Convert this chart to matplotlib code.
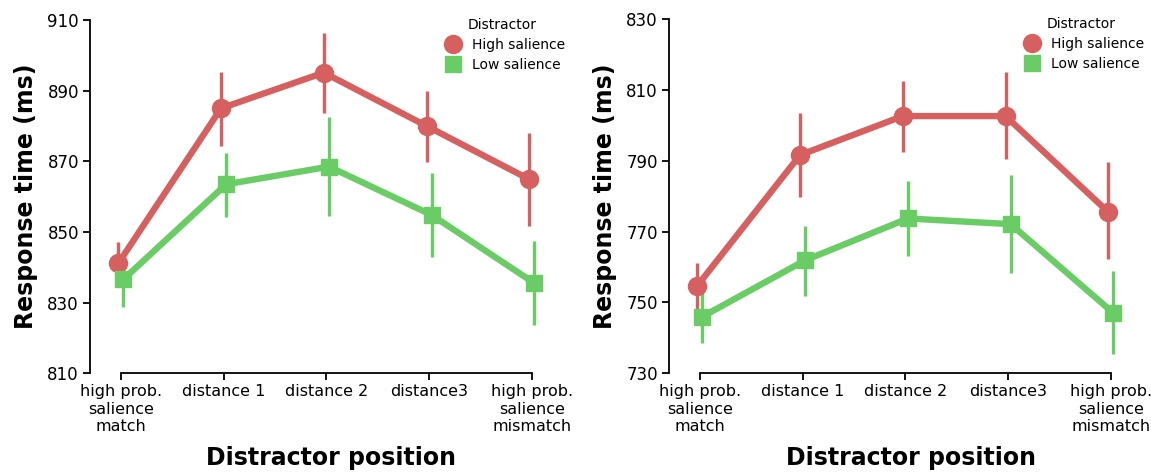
import matplotlib
matplotlib.use("Agg")
import matplotlib.pyplot as plt
from matplotlib.lines import Line2D
import numpy as np

categories = ["high prob.\nsalience\nmatch", "distance 1", "distance 2", "distance3",
              "high prob.\nsalience\nmismatch"]
series_names = ["High salience", "Low salience"]

# Left panel
left_high_mean = [841.1, 885.0, 895.1, 880.0, 864.9]
left_high_lo = [835.0, 874.2, 883.8, 869.7, 851.7]
left_high_hi = [847.3, 895.4, 906.2, 890.0, 877.9]
left_low_mean = [836.6, 863.5, 868.5, 854.8, 835.5]
left_low_lo = [828.9, 854.3, 854.5, 842.8, 823.7]
left_low_hi = [844.0, 872.3, 882.6, 866.8, 847.5]
left_yticks = [810, 830, 850, 870, 890, 910]

# Right panel
right_high_mean = [754.7, 791.6, 802.6, 802.6, 775.5]
right_high_lo = [748.0, 779.9, 792.5, 790.4, 762.2]
right_high_hi = [761.0, 803.4, 812.5, 814.9, 789.5]
right_low_mean = [746.0, 761.9, 773.7, 772.1, 747.0]
right_low_lo = [738.5, 751.8, 763.0, 758.2, 735.4]
right_low_hi = [753.5, 771.7, 784.3, 785.9, 759.0]
right_yticks = [730, 750, 770, 790, 810, 830]

RED = "#d65f5f"
GREEN = "#6acc64"

W, H = 1151, 473
fig = plt.figure(figsize=(W / 100, H / 100), dpi=100)

def px_axes(left, top, right, bottom):
    return fig.add_axes([left / W, 1 - bottom / H, (right - left) / W, (bottom - top) / H])

def draw(ax, hm, hlo, hhi, lm, llo, lhi, yticks):
    x = np.arange(len(categories))
    d = 0.025
    for xs, m, lo, hi, col, mk, ms in [
        (x - d, hm, hlo, hhi, RED, "o", 13),
        (x + d, lm, llo, lhi, GREEN, "s", 12),
    ]:
        ax.vlines(xs, lo, hi, color=col, lw=2.4, zorder=2)
        ax.plot(xs, m, color=col, lw=4.6, marker=mk, ms=ms, zorder=3,
                solid_capstyle="round")
    ax.set_xlim(-0.3, 4.4)
    ax.set_ylim(yticks[0], yticks[-1])
    ax.set_xticks(x)
    ax.set_xticklabels(categories, fontsize=11.5, linespacing=1.18)
    ax.set_yticks(yticks)
    ax.set_yticklabels([str(t) for t in yticks], fontsize=12)
    for s in ["top", "right"]:
        ax.spines[s].set_visible(False)
    ax.spines["bottom"].set_bounds(0, 4)
    ax.spines["left"].set_linewidth(1.3)
    ax.spines["bottom"].set_linewidth(1.3)
    ax.tick_params(width=1.3, length=5, pad=3)
    ax.set_ylabel("Response time (ms)", fontsize=17, fontweight="bold", labelpad=7)
    ax.set_xlabel("Distractor position", fontsize=17, fontweight="bold", labelpad=9)
    handles = [
        Line2D([], [], color=RED, marker="o", ls="none", ms=13),
        Line2D([], [], color=GREEN, marker="s", ls="none", ms=12),
    ]
    ax.legend(handles, series_names, title="Distractor", frameon=False,
              fontsize=10, title_fontsize=10, loc="upper right",
              bbox_to_anchor=(1.0, 1.03), handletextpad=0.3,
              labelspacing=0.45, borderaxespad=0.2)

ax1 = px_axes(90, 20, 573, 373.3)
draw(ax1, left_high_mean, left_high_lo, left_high_hi,
     left_low_mean, left_low_lo, left_low_hi, left_yticks)
ax2 = px_axes(669, 19, 1152, 373.3)
draw(ax2, right_high_mean, right_high_lo, right_high_hi,
     right_low_mean, right_low_lo, right_low_hi, right_yticks)

fig.savefig("out.png", dpi=100)
